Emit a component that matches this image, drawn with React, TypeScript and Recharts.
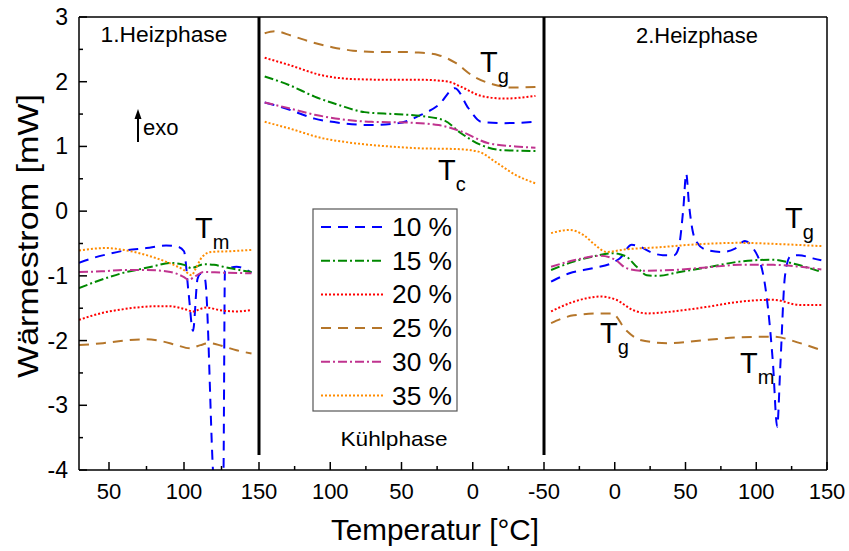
import React from 'react';
import { LineChart, Line, XAxis, YAxis, ReferenceLine } from 'recharts';

const FONT = '"Liberation Sans", Arial, Helvetica, sans-serif';

const seriesNames = ['10 %', '15 %', '20 %', '25 %', '30 %', '35 %'];
const seriesColors = ['#0000FF', '#008800', '#FF0000', '#B5762A', '#C0338F', '#FF8C00'];
const seriesDashes = ['10 7', '9 3 2 3', '2 2', '10 7', '9 3 2 3', '2 2'];

// 1. Heizphase  [T in °C, Wärmestrom in mW]
const heat1_10 = [[30, -0.8], [40, -0.72], [50, -0.66], [60, -0.61], [75, -0.57], [88, -0.53], [96, -0.55], [100, -0.62], [103, -1.25], [106, -1.85], [109, -1.05], [111, -0.97], [114, -1.05], [120, -4.25], [123, -4.6], [126.2, -4.25], [127.3, -0.92], [135, -0.86], [145, -0.95]];
const heat1_15 = [[30, -1.19], [40, -1.1], [50, -1.02], [60, -0.95], [70, -0.9], [80, -0.85], [91, -0.8], [100, -0.83], [105, -0.88], [108, -0.86], [113, -0.82], [120, -0.83], [130, -0.88], [145, -0.94]];
const heat1_20 = [[30, -1.68], [38, -1.62], [46, -1.57], [58, -1.52], [68, -1.49], [80, -1.47], [91, -1.47], [100, -1.51], [106, -1.55], [111, -1.51], [115, -1.49], [124, -1.53], [135, -1.55], [145, -1.53]];
const heat1_25 = [[30, -2.07], [46, -2.04], [60, -2.0], [75, -1.98], [85, -2.01], [95, -2.07], [104, -2.12], [111, -2.07], [117, -2.04], [125, -2.08], [135, -2.15], [145, -2.2]];
const heat1_30 = [[30, -0.94], [45, -0.93], [60, -0.91], [75, -0.91], [91, -0.94], [100, -1.02], [103, -1.06], [108, -1.0], [113, -0.94], [125, -0.95], [145, -0.96]];
const heat1_35 = [[30, -0.61], [40, -0.58], [48, -0.57], [60, -0.6], [75, -0.68], [90, -0.8], [100, -0.91], [105, -0.99], [108, -0.88], [112, -0.71], [118, -0.63], [130, -0.62], [145, -0.6]];

// Kühlphase (150 -> -50 °C)
const cool_10 = [[146, 1.68], [129, 1.57], [111, 1.43], [92, 1.36], [71, 1.33], [52, 1.36], [36, 1.49], [24, 1.64], [12.5, 1.9], [3, 1.59], [-6, 1.38], [-22, 1.36], [-44, 1.38]];
const cool_15 = [[146, 2.08], [129, 1.95], [111, 1.77], [94, 1.64], [76, 1.53], [55, 1.5], [36, 1.47], [20, 1.4], [8, 1.2], [-6, 1.02], [-22, 0.94], [-44, 0.93]];
const cool_20 = [[146, 2.37], [129, 2.26], [106, 2.1], [83, 2.04], [59, 2.03], [36, 2.03], [17, 2.0], [8, 1.92], [-6, 1.78], [-22, 1.74], [-44, 1.78]];
const cool_25 = [[146, 2.75], [139, 2.78], [127, 2.71], [113, 2.61], [98, 2.53], [84, 2.48], [68, 2.46], [53, 2.46], [38, 2.45], [24, 2.41], [12, 2.29], [0, 2.09], [-14, 1.96], [-28, 1.91], [-44, 1.92]];
const cool_30 = [[146, 1.68], [129, 1.59], [111, 1.49], [92, 1.42], [71, 1.38], [47, 1.37], [24, 1.33], [8, 1.23], [-11, 1.05], [-30, 1.0], [-44, 0.98]];
const cool_35 = [[146, 1.38], [129, 1.28], [106, 1.13], [83, 1.05], [59, 1.0], [36, 0.97], [12, 0.96], [-4, 0.92], [-16, 0.76], [-30, 0.56], [-44, 0.43]];

// 2. Heizphase (-50 -> 150 °C)
const heat2_10 = [[-45, -1.09], [-32, -0.96], [-15, -0.88], [0, -0.78], [5, -0.7], [7, -0.63], [12, -0.52], [18, -0.55], [25, -0.63], [34, -0.68], [42, -0.68], [45, -0.58], [48.5, 0.05], [50.5, 0.58], [52.5, 0.1], [55, -0.3], [58, -0.48], [65, -0.6], [76, -0.63], [85, -0.58], [92, -0.46], [97, -0.55], [105, -0.99], [111.8, -2.35], [114.8, -3.33], [117, -2.4], [120.3, -1.0], [124, -0.7], [130, -0.68], [140, -0.73], [146, -0.76]];
const heat2_15 = [[-45, -0.91], [-29, -0.78], [-13, -0.69], [-1, -0.65], [8, -0.7], [15.5, -0.86], [22.6, -0.99], [30, -1.0], [46, -0.94], [65, -0.87], [88, -0.78], [112, -0.75], [126, -0.81], [146, -0.94]];
const heat2_20 = [[-45, -1.55], [-29, -1.4], [-10, -1.32], [1, -1.37], [13, -1.53], [23, -1.58], [41, -1.55], [65, -1.48], [88, -1.4], [112, -1.37], [131, -1.45], [146, -1.45]];
const heat2_25 = [[-45, -1.73], [-29, -1.61], [-10, -1.58], [-2, -1.58], [8, -1.84], [18, -1.99], [37, -2.04], [65, -1.99], [88, -1.95], [112, -1.94], [131, -2.04], [146, -2.15]];
const heat2_30 = [[-45, -0.86], [-29, -0.76], [-10, -0.69], [1, -0.76], [8, -0.88], [18, -0.92], [41, -0.91], [65, -0.87], [88, -0.83], [112, -0.83], [131, -0.86], [146, -0.9]];
const heat2_35 = [[-45, -0.34], [-32, -0.29], [-22, -0.37], [-14, -0.52], [-6, -0.63], [8, -0.59], [30, -0.56], [53, -0.52], [88, -0.49], [117, -0.51], [146, -0.54]];

const heat1 = [heat1_10, heat1_15, heat1_20, heat1_25, heat1_30, heat1_35];
const cool = [cool_10, cool_15, cool_20, cool_25, cool_30, cool_35];
const heat2 = [heat2_10, heat2_15, heat2_20, heat2_25, heat2_30, heat2_35];

const yTicks = [-4, -3.5, -3, -2.5, -2, -1.5, -1, -0.5, 0, 0.5, 1, 1.5, 2, 2.5, 3];
const xTicksHeat1 = [50, 75, 100, 125, 150];
const xTicksCool = [125, 100, 75, 50, 25, 0, -25, -50];
const xTicksHeat2 = [-25, 0, 25, 50, 75, 100, 125, 150];

// the three temperature panels share one x axis (axis units span the plot width)
const PANELS = [
  { from: 30, to: 150, u0: 0, u1: 180, data: heat1, ticks: xTicksHeat1 },
  { from: 150, to: -50, u0: 180, u1: 465, data: cool, ticks: xTicksCool },
  { from: -50, to: 150, u0: 465, u1: 748, data: heat2, ticks: xTicksHeat2 },
];
const toU = (p: typeof PANELS[number], t: number) => p.u0 + ((t - p.from) / (p.to - p.from)) * (p.u1 - p.u0);

const xTickList = PANELS.flatMap((p) => p.ticks.map((t) => ({ u: toU(p, t), label: String(t), major: t % 50 === 0 })));

const XTick = (props: any) => {
  const { x, y, payload } = props;
  const tk = xTickList.find((d) => Math.abs(d.u - payload.value) < 0.01);
  const major = tk ? tk.major : false;
  return (
    <g>
      <line x1={x} x2={x} y1={y} y2={y - (major ? 8 : 4)} stroke="#000" strokeWidth={1.5} />
      {major && tk && (
        <text x={x} y={y + 29} textAnchor="middle" fontSize={22} fontFamily={FONT} fill="#000">
          {tk.label}
        </text>
      )}
    </g>
  );
};

const YTick = (props: any) => {
  const { x, y, payload } = props;
  const major = Number.isInteger(payload.value);
  return (
    <g>
      <line x1={x} x2={x + (major ? 8 : 4)} y1={y} y2={y} stroke="#000" strokeWidth={1.5} />
      {major && (
        <text x={x - 11} y={y + 8} textAnchor="end" fontSize={23} fontFamily={FONT} fill="#000">
          {payload.value}
        </text>
      )}
    </g>
  );
};

const Sub = ({ x, y, main, sub }: { x: number; y: number; main: string; sub: string }) => (
  <text x={x} y={y} fontSize={29} fontFamily={FONT} fill="#000">
    {main}
    <tspan fontSize={20} dy={11}>{sub}</tspan>
  </text>
);

export default function App() {
  const lines = PANELS.flatMap((p, pi) =>
    p.data.map((series, si) => (
      <Line
        key={`${pi}-${si}`}
        data={series.map(([t, v]) => ({ u: toU(p, t), v }))}
        dataKey="v"
        type="monotone"
        stroke={seriesColors[si]}
        strokeWidth={2}
        strokeDasharray={seriesDashes[si]}
        dot={false}
        activeDot={false}
        isAnimationActive={false}
      />
    ))
  );

  return (
    <div style={{ position: 'absolute', left: 0, top: 0, width: 849, height: 551, background: '#fff' }}>
      <LineChart width={849} height={551} margin={{ top: 17, right: 22, bottom: 0, left: 0 }}>
        <XAxis
          dataKey="u"
          type="number"
          domain={[0, 748]}
          allowDataOverflow
          ticks={xTickList.map((d) => d.u)}
          interval={0}
          tickSize={0}
          tickMargin={0}
          tickLine={false}
          tick={<XTick />}
          height={81}
          axisLine={{ stroke: '#000', strokeWidth: 1.5 }}
        />
        <YAxis
          type="number"
          domain={[-4, 3]}
          allowDataOverflow
          ticks={yTicks}
          interval={0}
          tickSize={0}
          tickMargin={0}
          tickLine={false}
          tick={<YTick />}
          width={79}
          axisLine={{ stroke: '#000', strokeWidth: 1.5 }}
        />
        <ReferenceLine y={3} stroke="#000" strokeWidth={1.5} />
        <ReferenceLine x={748} stroke="#000" strokeWidth={1.5} />
        {lines}
        <ReferenceLine segment={[{ x: 180, y: 3 }, { x: 180, y: -3.77 }]} stroke="#000" strokeWidth={3} />
        <ReferenceLine segment={[{ x: 465, y: 3 }, { x: 465, y: -3.77 }]} stroke="#000" strokeWidth={3} />
      </LineChart>

      <svg width={849} height={551} style={{ position: 'absolute', left: 0, top: 0, pointerEvents: 'none' }}>
        <g fontFamily={FONT} fill="#000">
          <text x={164} y={42} textAnchor="middle" fontSize={22} textLength={127} lengthAdjust="spacingAndGlyphs">1.Heizphase</text>
          <text x={697} y={43} textAnchor="middle" fontSize={22} textLength={122} lengthAdjust="spacingAndGlyphs">2.Heizphase</text>
          <text x={394} y={446} textAnchor="middle" fontSize={21} textLength={107} lengthAdjust="spacingAndGlyphs">Kühlphase</text>
          <line x1={138} x2={138} y1={142} y2={117} stroke="#000" strokeWidth={2} />
          <polygon points="134.5,119 141.5,119 138,109" fill="#000" />
          <text x={143} y={135} fontSize={22}>exo</text>
          <text x={435} y={540} textAnchor="middle" fontSize={29} textLength={208} lengthAdjust="spacingAndGlyphs">Temperatur [°C]</text>
          <text x={38} y={236} textAnchor="middle" fontSize={29} textLength={284} lengthAdjust="spacingAndGlyphs" transform="rotate(-90 38 236)">Wärmestrom [mW]</text>
        </g>
        <Sub x={195} y={238} main="T" sub="m" />
        <Sub x={480} y={72} main="T" sub="g" />
        <Sub x={438} y={180} main="T" sub="c" />
        <Sub x={785} y={228} main="T" sub="g" />
        <Sub x={600} y={343} main="T" sub="g" />
        <Sub x={740} y={373} main="T" sub="m" />

        <rect x={313} y={209} width={144} height={202} fill="#fff" stroke="#555" strokeWidth={1.2} />
        {seriesNames.map((name, i) => {
          const ry = 227 + i * 33.7;
          return (
            <g key={name}>
              <line x1={321} x2={383} y1={ry} y2={ry} stroke={seriesColors[i]} strokeWidth={2} strokeDasharray={seriesDashes[i]} />
              <text x={392} y={ry + 9} fontSize={25} fontFamily={FONT} fill="#000" textLength={60} lengthAdjust="spacingAndGlyphs">{name}</text>
            </g>
          );
        })}
      </svg>
    </div>
  );
}
